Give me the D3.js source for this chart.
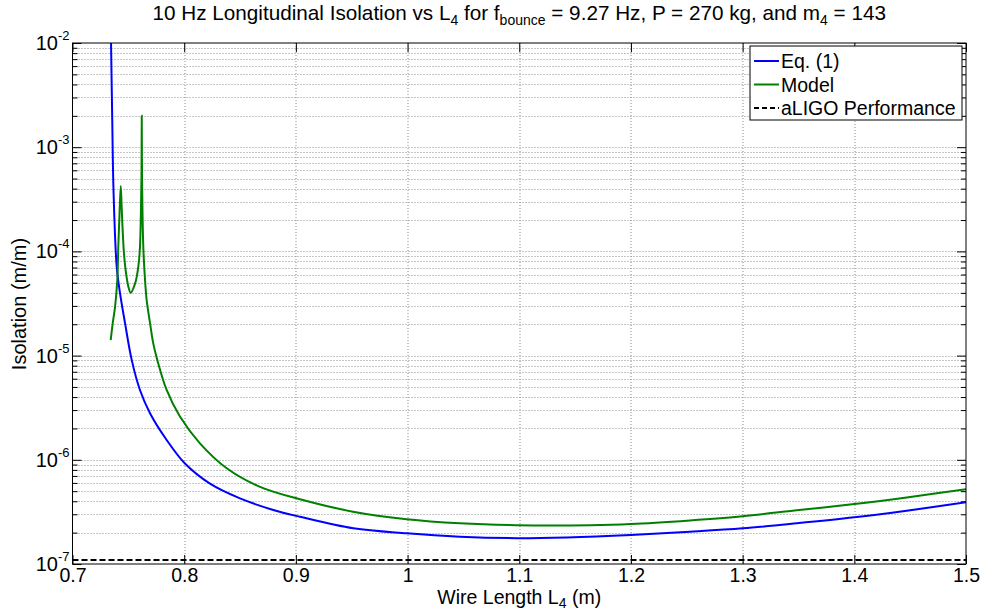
<!DOCTYPE html>
<html>
<head>
<meta charset="utf-8">
<script src="https://cdn.jsdelivr.net/npm/d3@7"></script>
<style>
  body { margin: 0; background: #fff; }
  text { font-family: "Liberation Sans", Arial, sans-serif; fill: #000; }
</style>
</head>
<body>
<div id="grafico"></div>
<script>
// Eq. (1) curve: wire length (m) vs isolation (m/m)
const lengthEq = [0.7342, 0.7345, 0.7356, 0.7367, 0.7396, 0.7425, 0.7470, 0.7530, 0.7604, 0.7694,
    0.7843, 0.8007, 0.8231, 0.8500, 0.8798, 0.9037, 0.9514, 0.9992, 1.0469, 1.0977,
    1.1425, 1.2000, 1.2528, 1.3000, 1.3484, 1.4000, 1.4469, 1.5000];
const isolationEq = [1.6e-2, 1.0e-2, 1.8e-3, 3.9e-4, 7.1e-5, 4.0e-5, 2.06e-5, 9.1e-6, 4.68e-6, 2.8e-6,
    1.55e-6, 9.2e-7, 5.9e-7, 4.26e-7, 3.3e-7, 2.84e-7, 2.2e-7, 1.97e-7, 1.83e-7, 1.77e-7,
    1.80e-7, 1.90e-7, 2.04e-7, 2.20e-7, 2.46e-7, 2.81e-7, 3.25e-7, 3.91e-7];

// Model curve
const lengthModel = [0.7342, 0.7360, 0.7381, 0.7401, 0.7410, 0.7419, 0.7432, 0.7440, 0.7449, 0.7461,
    0.7479, 0.7500, 0.7521, 0.7560, 0.7575, 0.7593, 0.7604, 0.7617, 0.7620, 0.7623,
    0.7634, 0.7649, 0.7664, 0.7694, 0.7723, 0.7759, 0.7843, 0.7962, 0.8141, 0.8381,
    0.8679, 0.9037, 0.9511, 0.9992, 1.0469, 1.0977, 1.1633, 1.2000, 1.2528, 1.3000,
    1.3484, 1.4000, 1.4469, 1.5000];
const isolationModel = [1.41e-5, 2.04e-5, 2.94e-5, 5.3e-5, 1.11e-4, 2.0e-4, 4.25e-4, 2.7e-4, 1.6e-4, 9.5e-5,
    6.2e-5, 4.6e-5, 4.0e-5, 4.9e-5, 5.7e-5, 7.7e-5, 1.1e-4, 4.8e-4, 2.0e-3, 4.8e-4,
    1.1e-4, 5.4e-5, 3.4e-5, 2.06e-5, 1.31e-5, 9.1e-6, 4.68e-6, 2.6e-6, 1.44e-6, 8.3e-7,
    5.5e-7, 4.18e-7, 3.18e-7, 2.69e-7, 2.46e-7, 2.36e-7, 2.36e-7, 2.42e-7, 2.62e-7, 2.87e-7,
    3.28e-7, 3.76e-7, 4.35e-7, 5.22e-7];

// aLIGO performance requirement
const aligoLevel = 1.09e-7;

const xTicks = [0.7, 0.8, 0.9, 1, 1.1, 1.2, 1.3, 1.4, 1.5];
const xTickLabels = ["0.7", "0.8", "0.9", "1", "1.1", "1.2", "1.3", "1.4", "1.5"];
const yExponents = [-7, -6, -5, -4, -3, -2];

const seriesNames = ["Eq. (1)", "Model", "aLIGO Performance"];
const seriesColors = ["#0000ff", "#008000", "#000000"];

const svgWidth = 984, svgHeight = 612;
const margin = { top: 43, right: 18, bottom: 48, left: 72.5 };
const width = svgWidth - margin.left - margin.right;
const height = svgHeight - margin.top - margin.bottom;

const svg = d3.select("#grafico")
    .append("svg")
    .attr("width", svgWidth)
    .attr("height", svgHeight);

const g = svg.append("g")
    .attr("transform", `translate(${margin.left}, ${margin.top})`);

const x = d3.scaleLinear().domain([0.7, 1.5]).range([0, width]);
const y = d3.scaleLog().domain([1e-7, 1e-2]).range([height, 0]);

const decadas = yExponents.map(e => Math.pow(10, e));
const menores = [];
yExponents.slice(0, -1).forEach(e => {
    for (let k = 2; k <= 9; k++) menores.push(k * Math.pow(10, e));
});

// Rejilla punteada
const rejilla = g.append("g")
    .attr("stroke", "#8c8c8c")
    .attr("stroke-width", 1)
    .attr("stroke-dasharray", "1,2");

rejilla.selectAll("line.gx")
    .data(xTicks.slice(1, -1))
    .enter().append("line")
    .attr("x1", d => Math.round(x(d)) + 0.5).attr("x2", d => Math.round(x(d)) + 0.5)
    .attr("y1", 0).attr("y2", height);

rejilla.selectAll("line.gy")
    .data(decadas.slice(1, -1).concat(menores))
    .enter().append("line")
    .attr("x1", 0).attr("x2", width)
    .attr("y1", d => Math.round(y(d)) + 0.5).attr("y2", d => Math.round(y(d)) + 0.5);

// Ejes con marcas hacia dentro
const ejeX = g.append("g")
    .attr("transform", `translate(0, ${height})`)
    .call(d3.axisBottom(x).tickValues(xTicks).tickSize(-9).tickSizeOuter(0).tickPadding(4)
        .tickFormat((d, i) => xTickLabels[i]));
ejeX.selectAll("text").style("font-size", "19.5px");

g.append("g")
    .call(d3.axisTop(x).tickValues(xTicks).tickSize(-9).tickSizeOuter(0).tickFormat(""));

g.append("g")
    .call(d3.axisLeft(y).tickValues(decadas).tickSize(-9).tickSizeOuter(0).tickFormat(""));
g.append("g")
    .call(d3.axisLeft(y).tickValues(menores).tickSize(-5).tickSizeOuter(0).tickFormat(""));
g.append("g")
    .attr("transform", `translate(${width}, 0)`)
    .call(d3.axisRight(y).tickValues(decadas).tickSize(-9).tickSizeOuter(0).tickFormat(""));
g.append("g")
    .attr("transform", `translate(${width}, 0)`)
    .call(d3.axisRight(y).tickValues(menores).tickSize(-5).tickSizeOuter(0).tickFormat(""));

g.selectAll(".domain").remove();
g.selectAll(".tick line").attr("stroke", "#000");

// Etiquetas del eje Y: 10^n
const etiquetasY = g.append("g");
yExponents.forEach(e => {
    const t = etiquetasY.append("text")
        .attr("x", -3)
        .attr("y", y(Math.pow(10, e)) + 7)
        .attr("text-anchor", "end")
        .style("font-size", "20px");
    t.append("tspan").text("10");
    t.append("tspan").attr("dy", -10).style("font-size", "13px").text("-" + (-e));
});

// Curvas
const defs = svg.append("defs");
defs.append("clipPath").attr("id", "recorte")
    .append("rect").attr("width", width).attr("height", height);

const linea = d3.line()
    .x(d => x(d[0]))
    .y(d => y(d[1]))
    .curve(d3.curveCatmullRom.alpha(0.5));

const curvas = g.append("g").attr("clip-path", "url(#recorte)");

curvas.append("path")
    .datum(lengthEq.map((l, i) => [l, isolationEq[i]]))
    .attr("fill", "none")
    .attr("stroke", seriesColors[0])
    .attr("stroke-width", 2)
    .attr("d", linea);

curvas.append("path")
    .datum(lengthModel.map((l, i) => [l, isolationModel[i]]))
    .attr("fill", "none")
    .attr("stroke", seriesColors[1])
    .attr("stroke-width", 2)
    .attr("d", linea);

curvas.append("line")
    .attr("x1", x(0.7)).attr("x2", x(1.5))
    .attr("y1", y(aligoLevel)).attr("y2", y(aligoLevel))
    .attr("stroke", seriesColors[2])
    .attr("stroke-width", 2)
    .attr("stroke-dasharray", "6,3");

// Marco
g.append("rect")
    .attr("width", width).attr("height", height)
    .attr("fill", "none")
    .attr("stroke", "#000")
    .attr("stroke-width", 1);

// Leyenda
const leyenda = svg.append("g").attr("transform", "translate(750, 46)");
leyenda.append("rect")
    .attr("width", 212).attr("height", 74)
    .attr("fill", "#fff").attr("stroke", "#000");

const filasY = [15, 38.5, 62];
seriesNames.forEach((nombre, i) => {
    leyenda.append("line")
        .attr("x1", 4).attr("x2", 29)
        .attr("y1", filasY[i]).attr("y2", filasY[i])
        .attr("stroke", seriesColors[i])
        .attr("stroke-width", 2)
        .attr("stroke-dasharray", i === 2 ? "5,3" : null);
    leyenda.append("text")
        .attr("x", 31).attr("y", filasY[i] + 7)
        .style("font-size", "19.5px")
        .text(nombre);
});

// Título
const titulo = svg.append("text")
    .attr("x", margin.left + width / 2)
    .attr("y", 20)
    .attr("text-anchor", "middle")
    .style("font-size", "20.7px");
titulo.append("tspan").text("10 Hz Longitudinal Isolation vs L");
titulo.append("tspan").attr("dy", 5).style("font-size", "14px").text("4");
titulo.append("tspan").attr("dy", -5).text(" for f");
titulo.append("tspan").attr("dy", 5).style("font-size", "14px").text("bounce");
titulo.append("tspan").attr("dy", -5).text(" = 9.27 Hz, P = 270 kg, and m");
titulo.append("tspan").attr("dy", 5).style("font-size", "14px").text("4");
titulo.append("tspan").attr("dy", -5).text(" = 143");

// Título eje X
const tituloX = svg.append("text")
    .attr("x", margin.left + width / 2)
    .attr("y", 604)
    .attr("text-anchor", "middle")
    .style("font-size", "19.5px");
tituloX.append("tspan").text("Wire Length L");
tituloX.append("tspan").attr("dy", 4).style("font-size", "14px").text("4");
tituloX.append("tspan").attr("dy", -4).text(" (m)");

// Título eje Y
svg.append("text")
    .attr("transform", "translate(26, 304) rotate(-90)")
    .attr("text-anchor", "middle")
    .style("font-size", "20px")
    .text("Isolation (m/m)");
</script>
</body>
</html>
